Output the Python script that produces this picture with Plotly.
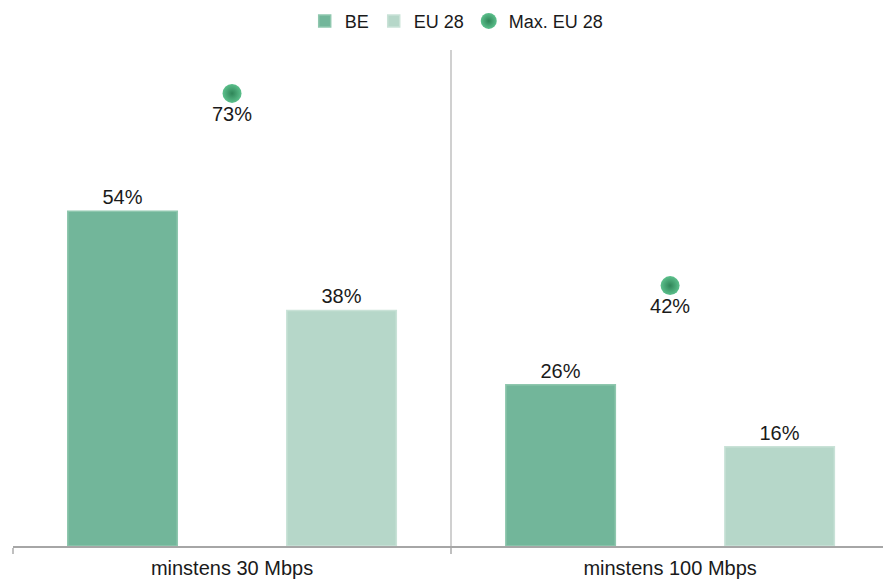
import plotly.graph_objects as go

# Broadband coverage shares (%)
categories = ["minstens 30 Mbps", "minstens 100 Mbps"]
be_values = [54, 26]
eu_values = [38, 16]
max_eu_values = [73, 42]

FONT = "Liberation Sans, Arial, sans-serif"
TEXT_SIZE = 20

fig = go.Figure()

fig.add_trace(go.Bar(
    name="BE",
    x=categories,
    y=be_values,
    text=[f"{v}%" for v in be_values],
    textposition="outside",
    textfont=dict(size=TEXT_SIZE, color="#1a1a1a"),
    marker=dict(color="#72b69a", line=dict(color="#8fc7ae", width=1.5)),
    cliponaxis=False,
))

fig.add_trace(go.Bar(
    name="EU 28",
    x=categories,
    y=eu_values,
    text=[f"{v}%" for v in eu_values],
    textposition="outside",
    textfont=dict(size=TEXT_SIZE, color="#1a1a1a"),
    marker=dict(color="#b6d7c9", line=dict(color="#c9e2d7", width=1.5)),
    cliponaxis=False,
))

fig.add_trace(go.Scatter(
    name="Max. EU 28",
    x=categories,
    y=max_eu_values,
    mode="markers+text",
    text=[f"{v}%" for v in max_eu_values],
    textposition="bottom center",
    textfont=dict(size=TEXT_SIZE, color="#1a1a1a"),
    marker=dict(
        size=19,
        color="#5cc08c",
        gradient=dict(type="radial", color="#2f8558"),
        line=dict(width=0),
    ),
    cliponaxis=False,
))

fig.update_layout(
    width=883,
    height=579,
    margin=dict(l=13, r=0, t=50, b=33),
    paper_bgcolor="white",
    plot_bgcolor="white",
    font=dict(family=FONT, size=TEXT_SIZE, color="#1a1a1a"),
    barmode="group",
    bargap=0.0,
    bargroupgap=0.5,
    showlegend=True,
    legend=dict(
        orientation="h",
        x=0.51,
        xanchor="center",
        y=1.058,
        yanchor="middle",
        font=dict(size=18),
        itemwidth=30,
        tracegroupgap=0,
    ),
    xaxis=dict(
        type="category",
        range=[-0.5, 1.486],
        tickson="boundaries",
        showgrid=True,
        gridcolor="#d0d0d0",
        gridwidth=1.5,
        showline=True,
        linecolor="#a6a6a6",
        linewidth=1.5,
        ticks="outside",
        ticklen=6,
        tickcolor="#c0c0c0",
        tickwidth=1.5,
        tickfont=dict(size=TEXT_SIZE),
        ticklabelstandoff=3,
        zeroline=False,
        fixedrange=True,
    ),
    yaxis=dict(
        range=[0, 80],
        visible=False,
        showgrid=False,
        zeroline=False,
        fixedrange=True,
    ),
)

fig.write_html("out.html")
